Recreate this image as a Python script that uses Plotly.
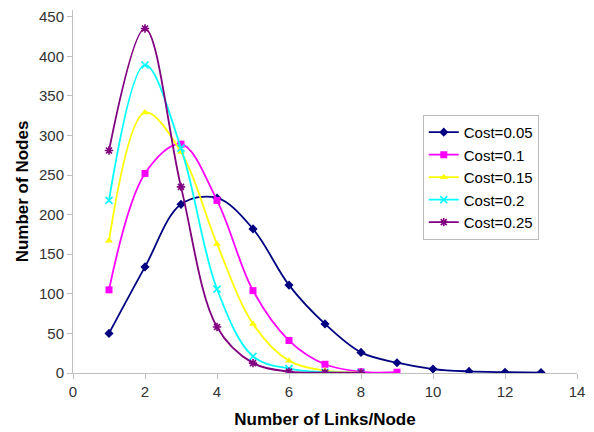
import plotly.graph_objects as go

x_links = list(range(1, 14))
series_names = ["Cost=0.05", "Cost=0.1", "Cost=0.15", "Cost=0.2", "Cost=0.25"]
cost_005 = [50, 134, 213, 221, 182, 111, 62, 26, 13, 5, 2, 1, 0.5]
cost_010 = [105, 252, 289, 218, 104, 41, 11, 1.5, 1]
cost_015 = [167, 329, 279, 163, 62, 15.5, 3, 0.5]
cost_020 = [218, 389, 284, 106, 21, 5.5, 1, 0.3]
cost_025 = [281, 435, 235, 58, 12.5, 1.7, 0.5, 0.3]
x_ticks = [0, 2, 4, 6, 8, 10, 12, 14]
y_ticks = [0, 50, 100, 150, 200, 250, 300, 350, 400, 450]

colors = ["#000080", "#FF00FF", "#FFFF00", "#00FFFF", "#800080"]
symbols = ["diamond", "square", "triangle-up", "x-thin-open", "asterisk-open"]
sizes = [7, 7, 7, 7, 7]
all_vals = [cost_005, cost_010, cost_015, cost_020, cost_025]

font_family = "Arial, Liberation Sans, sans-serif"

fig = go.Figure()
for name, vals, c, s, sz in zip(series_names, all_vals, colors, symbols, sizes):
    marker = dict(symbol=s, size=sz, color=c)
    if s.endswith("open"):
        marker["line"] = dict(color=c, width=1.6)
    fig.add_trace(go.Scatter(
        x=x_links[:len(vals)], y=vals, name=name,
        mode="lines+markers",
        line=dict(color=c, width=1.8, shape="spline", smoothing=1.0),
        marker=marker,
    ))

# page body has an 8px default margin: the figure is offset by (8, 8)
fig.update_layout(
    width=586, height=424,
    margin=dict(l=65, r=17, t=0, b=59),
    paper_bgcolor="white", plot_bgcolor="white",
    font=dict(family=font_family, size=15, color="#333333"),
    showlegend=True,
    legend=dict(
        x=0.694, y=0.711, xanchor="left", yanchor="top",
        bgcolor="white", bordercolor="#BBBBBB", borderwidth=1,
        font=dict(family=font_family, size=15, color="#000000"),
        itemwidth=30, tracegroupgap=0,
    ),
    xaxis=dict(
        range=[0, 14], tickvals=x_ticks, ticktext=[str(v) for v in x_ticks],
        showgrid=False, zeroline=False,
        showline=True, linecolor="#C0C0C0", linewidth=1,
        ticks="outside", ticklen=5, tickcolor="#C0C0C0",
        tickfont=dict(size=15, color="#333333"),
        ticklabeloverflow="allow",
        title=dict(text="<b>Number of Links/Node</b>",
                   font=dict(size=17, color="#000000"), standoff=14),
    ),
    yaxis=dict(
        range=[0, 458.4], tickvals=y_ticks, ticktext=[str(v) for v in y_ticks],
        showgrid=False, zeroline=False,
        showline=True, linecolor="#C0C0C0", linewidth=1,
        ticks="outside", ticklen=5, tickcolor="#C0C0C0",
        tickfont=dict(size=15, color="#333333"),
        ticklabeloverflow="allow",
        title=dict(text="<b>Number of Nodes</b>",
                   font=dict(size=17, color="#000000"), standoff=6),
    ),
)

fig.write_html("out.html")
